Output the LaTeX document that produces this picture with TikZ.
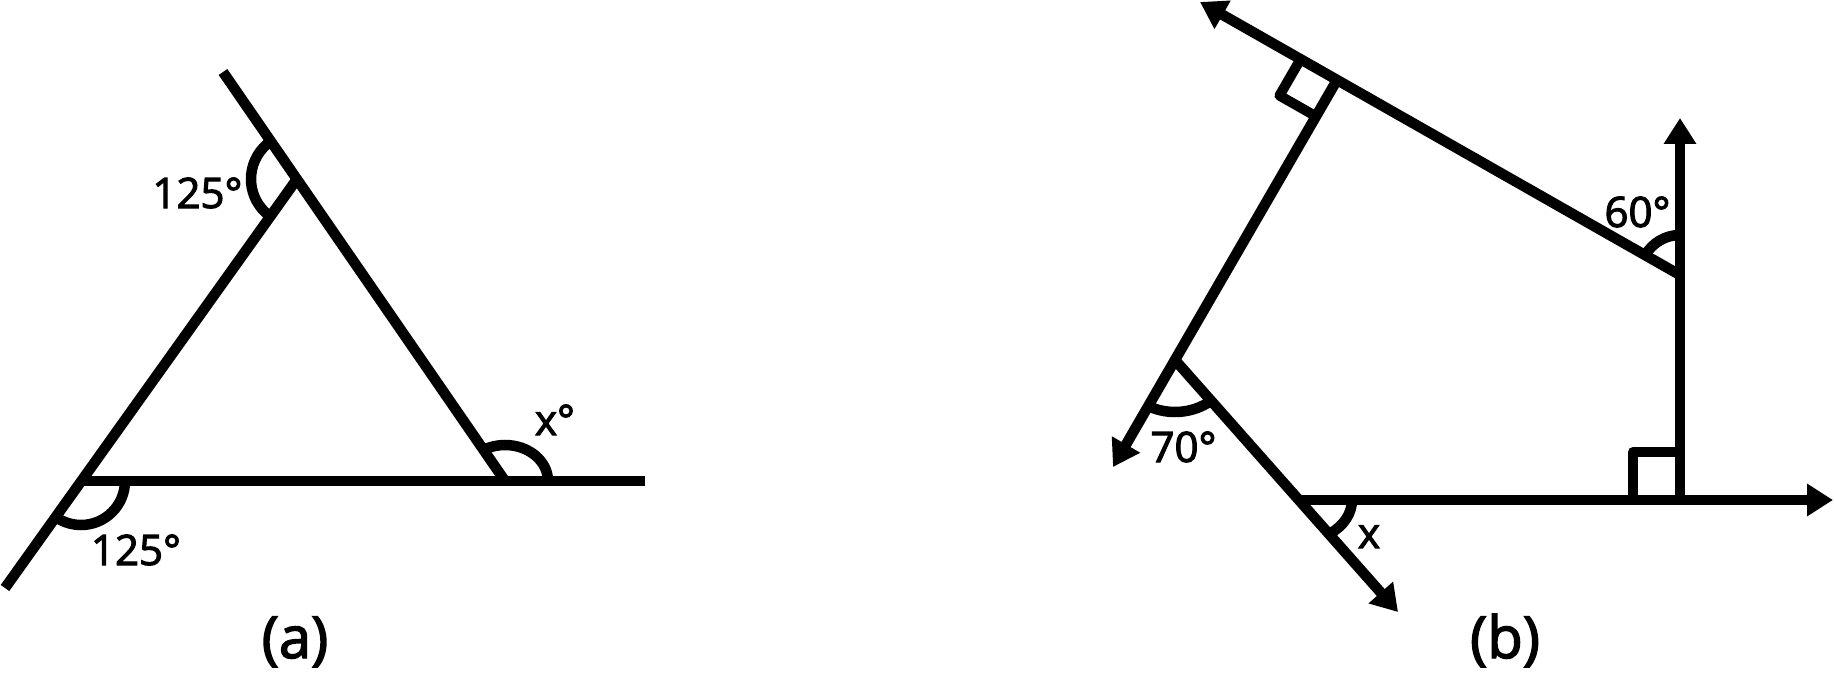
\documentclass[tikz,border=0pt]{standalone}
\usepackage{fontspec}
\setmainfont{Open Sans}[FakeBold=2.5]
\usetikzlibrary{arrows.meta,calc}
\begin{document}
\begin{tikzpicture}[x=1pt,y=-1pt,line width=10.5pt,
  arr/.style={-{Triangle[length=26pt,width=31pt]}},
  rbox/.style={line width=10pt,line join=round},
  lbl/.style={font=\fontsize{42}{50}\selectfont,inner sep=0pt,anchor=base},
  figlabel/.style={font=\fontsize{58}{68}\selectfont,inner sep=0pt,anchor=base}]
\useasboundingbox (0,0) rectangle (1834,674);
% ---------- (a) ----------
\coordinate (Atop) at (223,72);
\coordinate (A) at (297,179);
\coordinate (B) at (81,481);
\coordinate (Bend) at (5,588);
\coordinate (C) at (505,481);
\coordinate (Cend) at (645,481);
\draw (Atop) -- (C);
\draw (Bend) -- (A);
\draw (B) -- (Cend);
\draw ([shift={(125.5:46)}]A) arc[start angle=125.5,end angle=235.4,radius=46];
\draw ([shift={(0:44)}]B) arc[start angle=0,end angle=126,radius=44];
\draw ([shift={(0:43)}]C) arc[start angle=0,end angle=-120,x radius=43,y radius=36];
\node[lbl] (l1) at (197.5,208) {125°};
\node[lbl] (l2) at (136,565) {125°};
\node[lbl] (l3) at (555,435) {x°};
\node[figlabel] (la) at (295,658) {(a)};
% ---------- (b) ----------
\coordinate (Ptip) at (1200,2);
\coordinate (P1) at (1337,80);
\coordinate (P2) at (1175,360);
\coordinate (Ltip) at (1113,467);
\coordinate (P3) at (1300,500);
\coordinate (Dtip) at (1398,612);
\coordinate (P4) at (1680,275);
\coordinate (Q) at (1680,500);
\coordinate (Utip) at (1680,118);
\coordinate (Rtip) at (1833,500);
\draw[arr] (P4) -- (Ptip);
\draw[arr] (P1) -- (Ltip);
\draw[arr] (P2) -- (Dtip);
\draw[arr] (P3) -- (Rtip);
\draw[arr] (Q) -- (Utip);
% right angle marks
\coordinate (K1) at ($(P1)!42pt!(Ptip)$);
\coordinate (K3) at ($(P1)!42pt!(Ltip)$);
\coordinate (K2) at ($(K1)+(K3)-(P1)$);
\draw[rbox] (K1) -- (K2) -- (K3);
\coordinate (K4) at ($(Q)!47pt!(P3)$);
\coordinate (K6) at ($(Q)!48pt!(Utip)$);
\coordinate (K5) at ($(K4)+(K6)-(Q)$);
\draw[rbox] (K4) -- (K5) -- (K6);
% angle arcs
\draw ([shift={(-90:40)}]P4) arc[start angle=-90,end angle=-150.4,radius=40];
\draw (P2) ++({58*cos(51.6)},{52*sin(51.6)}) arc[start angle=51.6,end angle=117.5,x radius=58,y radius=52];
\draw (P3) ++(52,0) arc[start angle=0,end angle=55.1,x radius=52,y radius=41];
\node[lbl] (l4) at (1637.5,227) {60°};
\node[lbl] (l5) at (1183.5,462) {70°};
\node[lbl] (l6) at (1369,548) {x};
\node[figlabel] (lb) at (1505,658) {(b)};
\end{tikzpicture}
\end{document}
